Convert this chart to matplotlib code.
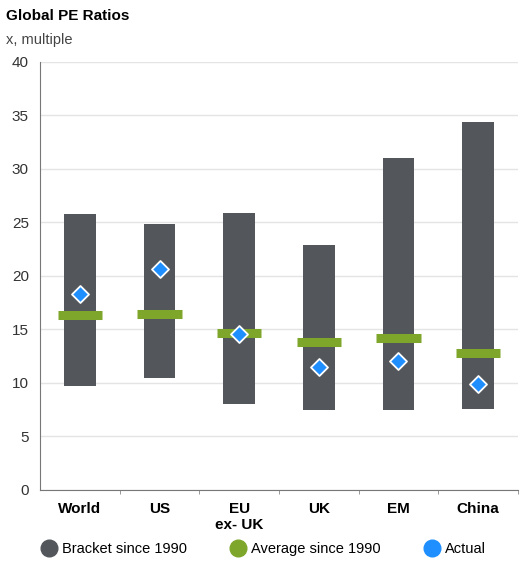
import numpy as np
import matplotlib.pyplot as plt
from matplotlib.lines import Line2D

plt.rcParams['font.family'] = ['Liberation Sans', 'DejaVu Sans']

categories = ['World', 'US', 'EU\nex- UK', 'UK', 'EM', 'China']
bracket_low = [9.7, 10.5, 8.0, 7.5, 7.5, 7.6]
bracket_high = [25.8, 24.8, 25.9, 22.9, 31.0, 34.4]
average = [16.3, 16.4, 14.7, 13.8, 14.2, 12.8]
actual = [18.3, 20.6, 14.6, 11.5, 12.0, 9.9]

c_bar = '#53565a'
c_avg = '#7ea62b'
c_act = '#1f8fff'

fig = plt.figure(figsize=(5.2, 5.67), dpi=100)
ax = fig.add_axes([0.077, 0.136, 0.919, 0.755])

x = np.arange(len(categories))
low = np.array(bracket_low)
high = np.array(bracket_high)
ax.bar(x, high - low, bottom=low, width=0.4, color=c_bar, zorder=2)
ax.errorbar(x, average, xerr=0.28, fmt='none', ecolor=c_avg, elinewidth=6.5, capsize=0, zorder=3)
ax.scatter(x, actual, marker='D', s=75, color=c_act, edgecolor='white', linewidth=1.3, zorder=4)

ax.set_xlim(-0.5, 5.5)
ax.set_ylim(0, 40)
ax.set_yticks(np.arange(0, 41, 5))
ax.yaxis.grid(True, color='#e4e4e4', linewidth=1)
ax.set_axisbelow(True)
ax.tick_params(axis='y', length=0, labelsize=11, colors='#333333', pad=8)
ax.set_xticks(x)
ax.set_xticklabels(categories, fontweight='bold', fontsize=11, linespacing=1.15)
ax.tick_params(axis='x', length=0, pad=9)
ax.set_xticks(np.arange(0.5, 6, 1), minor=True)
ax.tick_params(axis='x', which='minor', length=3, color='#888888')
for s in ['top', 'right']:
    ax.spines[s].set_visible(False)
ax.spines['left'].set_color('#777777')
ax.spines['bottom'].set_color('#777777')

fig.text(0.012, 0.985, 'Global PE Ratios', fontsize=11, fontweight='bold', va='top')
fig.text(0.012, 0.93, 'x, multiple', fontsize=10.5, color='#444444', va='center')

handles = [
    Line2D([], [], marker='o', linestyle='none', markersize=12, color=c_bar),
    Line2D([], [], marker='o', linestyle='none', markersize=12, color=c_avg),
    Line2D([], [], marker='o', linestyle='none', markersize=12, color=c_act),
]
labels = ['Bracket since 1990', 'Average since 1990', 'Actual']
fig.legend(handles, labels, loc='center left', bbox_to_anchor=(0.055, 0.032), ncol=3,
           frameon=False, fontsize=10.5, handletextpad=0.4, columnspacing=3.0,
           handlelength=1.0)

fig.savefig('out.png', dpi=100)
